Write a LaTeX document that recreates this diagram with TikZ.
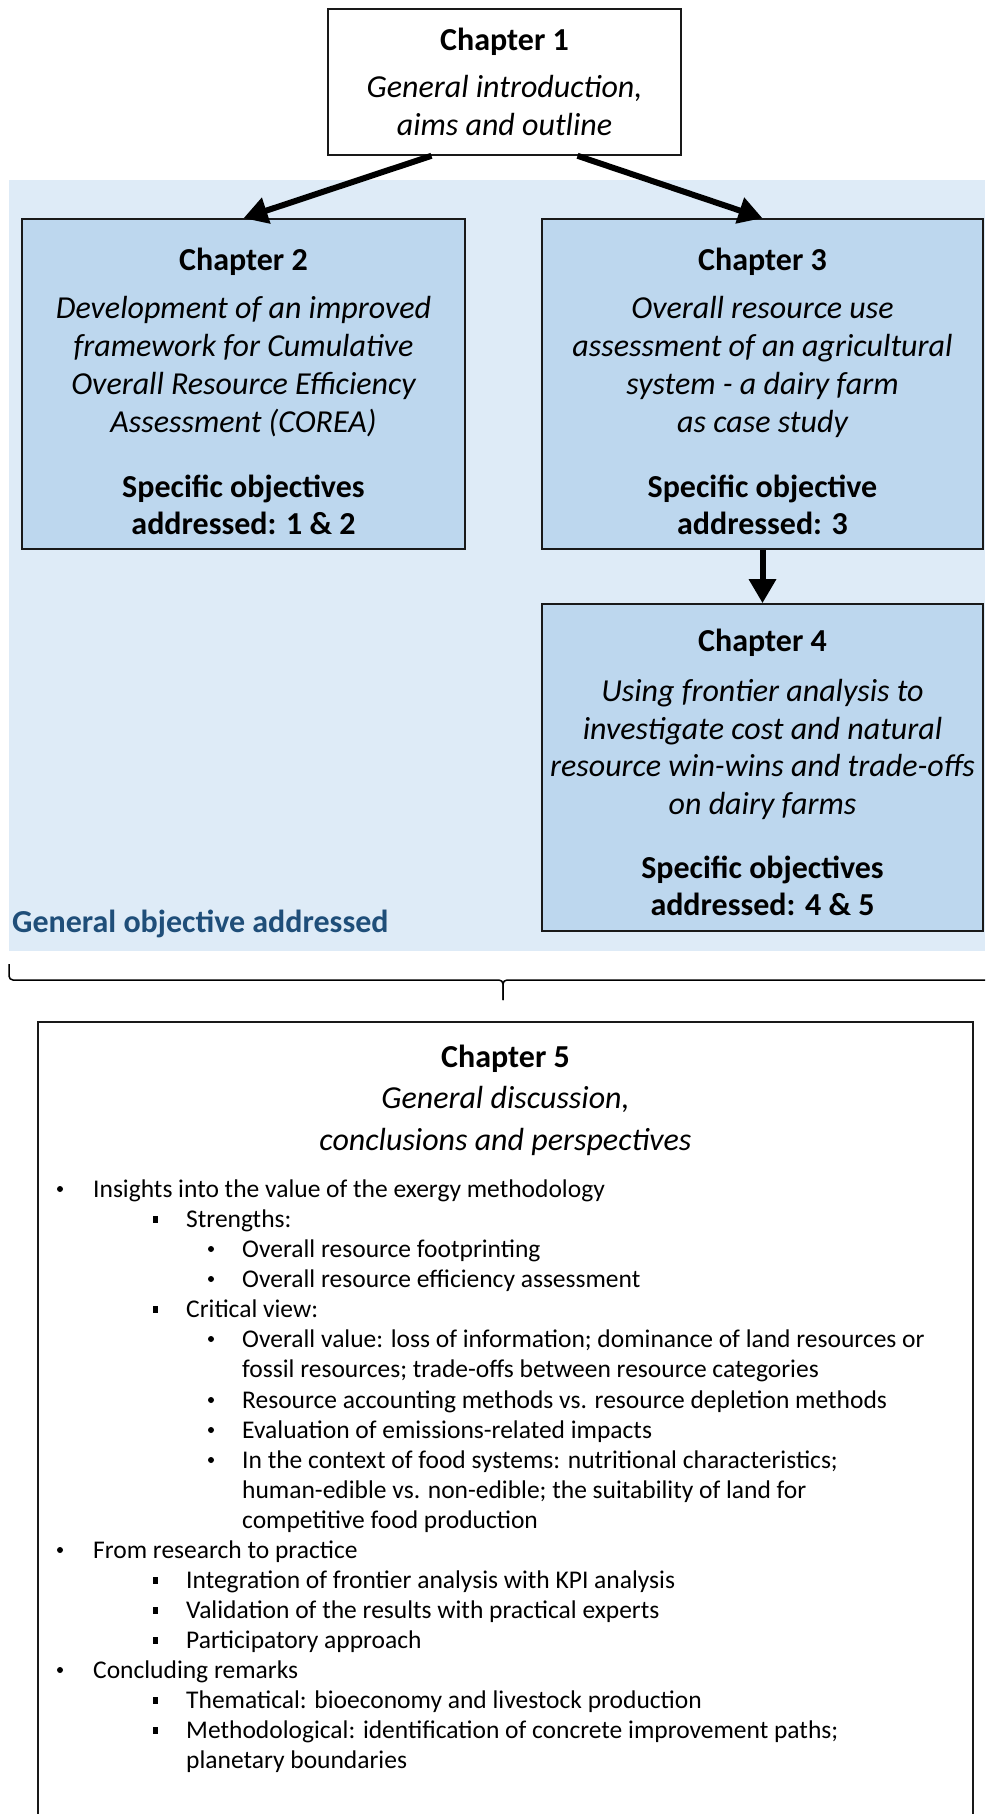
\documentclass[tikz,border=0pt]{standalone}
\usepackage{fontspec}
\setmainfont{Carlito}
\usetikzlibrary{arrows.meta,calc}
\definecolor{bgblue}{HTML}{DEEBF7}
\definecolor{boxblue}{HTML}{BDD7EE}
\definecolor{objblue}{HTML}{1F4E79}
\begin{document}
\begin{tikzpicture}[x=1pt,y=-1pt,
  chapbox/.style={draw=black!90, line width=1.6pt, inner sep=0pt},
  title/.style={anchor=base, inner sep=0pt, font=\fontsize{32}{38}\selectfont\bfseries},
  desc/.style={anchor=base, inner sep=0pt, font=\fontsize{32}{38}\selectfont\itshape},
  item/.style={anchor=base west, inner sep=0pt, font=\fontsize{25.5}{30}\selectfont},
  flow/.style={line width=6pt, -{Triangle[length=24pt,width=26pt]}},
  bracepath/.style={line width=1.5pt, rounded corners=4pt}
]
\useasboundingbox (0,0) rectangle (985,1814);
\clip (0,0) rectangle (985,1814);

% shaded region of the general objective
\fill[bgblue] (9,180) rectangle (985,951);

% chapter boxes
\node[chapbox, fill=white, minimum width=353pt, minimum height=146pt] (ch1) at (504.5,82) {};
\node[chapbox, fill=boxblue, minimum width=443pt, minimum height=330pt] (ch2) at (243.5,384) {};
\node[chapbox, fill=boxblue, minimum width=441pt, minimum height=330pt] (ch3) at (762.5,384) {};
\node[chapbox, fill=boxblue, minimum width=441pt, minimum height=327pt] (ch4) at (762.5,767.5) {};
\node[chapbox, fill=white, minimum width=935pt, minimum height=830pt] (ch5) at (505.5,1437) {};

% Chapter 1
\node[title] (t1) at (504.5,51) {Chapter 1};
\node[desc] (d1a) at (504.5,98) {General introduction,};
\node[desc] (d1b) at (504.5,136) {aims and outline};

% Chapter 2
\node[title] (t2) at (243.5,270) {Chapter 2};
\node[desc] (d2a) at (243.5,318) {Development of an improved};
\node[desc] (d2b) at (243.5,356) {framework for Cumulative};
\node[desc] (d2c) at (243.5,394) {Overall Resource Efficiency};
\node[desc] (d2d) at (243.5,432) {Assessment (COREA)};
\node[title] (o2a) at (243.5,497) {Specific objectives};
\node[title] (o2b) at (243.5,534) {addressed: 1 \& 2};

% Chapter 3
\node[title] (t3) at (762.5,270) {Chapter 3};
\node[desc] (d3a) at (762.5,318) {Overall resource use};
\node[desc] (d3b) at (762.5,356) {assessment of an agricultural};
\node[desc] (d3c) at (762.5,394) {system - a dairy farm};
\node[desc] (d3d) at (762.5,432) {as case study};
\node[title] (o3a) at (762.5,497) {Specific objective};
\node[title] (o3b) at (762.5,534) {addressed: 3};

% Chapter 4
\node[title] (t4) at (762.5,651) {Chapter 4};
\node[desc] (d4a) at (762.5,701) {Using frontier analysis to};
\node[desc] (d4b) at (762.5,739) {investigate cost and natural};
\node[desc] (d4c) at (762.5,776) {resource win-wins and trade-offs};
\node[desc] (d4d) at (762.5,814) {on dairy farms};
\node[title] (o4a) at (762.5,878) {Specific objectives};
\node[title] (o4b) at (762.5,915) {addressed: 4 \& 5};

\node[anchor=base west, inner sep=0pt, text=objblue,
      font=\fontsize{32}{38}\selectfont\bfseries] (goal) at (12,932) {General objective addressed};

% arrows between chapters
\draw[flow] ([xshift=-73pt]ch1.south) -- (ch2.north);
\draw[flow] ([xshift=73pt]ch1.south) -- (ch3.north);
\draw[flow] (ch3.south) -- (ch4.north);

% brace gathering chapters 2-4
\draw[bracepath] (9,964) |- (503,980) -- (503,1000);
\draw[bracepath] (503,1000) -- (503,980) -- (995,980);

% Chapter 5
\node[title] (t5) at (505.5,1067) {Chapter 5};
\node[desc] (d5a) at (505.5,1108) {General discussion,};
\node[desc] (d5b) at (505.5,1150) {conclusions and perspectives};

% list of discussion points
\node[item] (l1)  at (93,1197) {Insights into the value of the exergy methodology};
\node[item] (l2)  at (186,1227) {Strengths:};
\node[item] (l3)  at (242,1257) {Overall resource footprinting};
\node[item] (l4)  at (242,1287) {Overall resource efficiency assessment};
\node[item] (l5)  at (186,1317) {Critical view:};
\node[item] (l6)  at (242,1347) {Overall value: loss of information; dominance of land resources or};
\node[item] (l7)  at (242,1377) {fossil resources; trade-offs between resource categories};
\node[item] (l8)  at (242,1408) {Resource accounting methods vs. resource depletion methods};
\node[item] (l9)  at (242,1438) {Evaluation of emissions-related impacts};
\node[item] (l10) at (242,1468) {In the context of food systems: nutritional characteristics;};
\node[item] (l11) at (242,1498) {human-edible vs. non-edible; the suitability of land for};
\node[item] (l12) at (242,1528) {competitive food production};
\node[item] (l13) at (93,1558) {From research to practice};
\node[item] (l14) at (186,1588) {Integration of frontier analysis with KPI analysis};
\node[item] (l15) at (186,1618) {Validation of the results with practical experts};
\node[item] (l16) at (186,1648) {Participatory approach};
\node[item] (l17) at (93,1678) {Concluding remarks};
\node[item] (l18) at (186,1708) {Thematical: bioeconomy and livestock production};
\node[item] (l19) at (186,1738) {Methodological: identification of concrete improvement paths;};
\node[item] (l20) at (186,1768) {planetary boundaries};

% bullet markers: round for first and third level, square for second
\foreach \y in {1197,1558,1678} \fill (60,\y-8) circle (3pt);
\foreach \y in {1257,1287,1347,1408,1438,1468} \fill (211,\y-8) circle (3pt);
\foreach \y in {1227,1317,1588,1618,1648,1708,1738} \fill (152.5,\y-11.5) rectangle (157.5,\y-4.5);
\end{tikzpicture}
\end{document}
